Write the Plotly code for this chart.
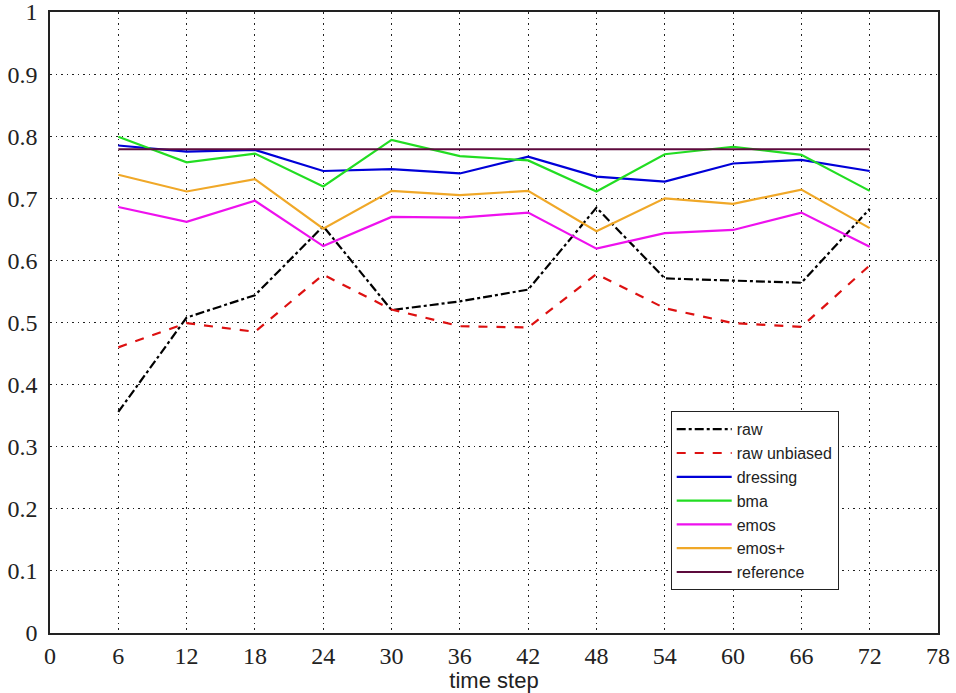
import plotly.graph_objects as go

time_steps = [6, 12, 18, 24, 30, 36, 42, 48, 54, 60, 66, 72]
raw = [0.356, 0.508, 0.544, 0.655, 0.520, 0.534, 0.553, 0.685, 0.571, 0.568, 0.564, 0.683]
raw_unbiased = [0.460, 0.499, 0.485, 0.577, 0.521, 0.494, 0.492, 0.578, 0.523, 0.499, 0.493, 0.592]
dressing = [0.785, 0.775, 0.778, 0.744, 0.747, 0.740, 0.767, 0.735, 0.727, 0.756, 0.762, 0.744]
bma = [0.799, 0.758, 0.772, 0.719, 0.794, 0.768, 0.761, 0.711, 0.771, 0.783, 0.770, 0.712]
emos = [0.686, 0.662, 0.696, 0.623, 0.670, 0.669, 0.677, 0.619, 0.644, 0.649, 0.677, 0.622]
emos_plus = [0.738, 0.711, 0.731, 0.651, 0.712, 0.705, 0.712, 0.647, 0.700, 0.691, 0.714, 0.652]
reference = [0.779] * 12

x_ticks = list(range(0, 79, 6))
y_ticks = [0, 0.1, 0.2, 0.3, 0.4, 0.5, 0.6, 0.7, 0.8, 0.9, 1]
y_tick_labels = ["0", "0.1", "0.2", "0.3", "0.4", "0.5", "0.6", "0.7", "0.8", "0.9", "1"]

series = [
    ("raw", raw, "#000000", "dashdot"),
    ("raw unbiased", raw_unbiased, "#dd1111", "dash"),
    ("dressing", dressing, "#0000d8", "solid"),
    ("bma", bma, "#22dd22", "solid"),
    ("emos", emos, "#ee11ee", "solid"),
    ("emos+", emos_plus, "#f0a828", "solid"),
    ("reference", reference, "#5c0a3c", "solid"),
]

fig = go.Figure()
for name, vals, color, dash in series:
    fig.add_trace(go.Scatter(x=time_steps, y=vals, mode="lines", name=name,
                             line=dict(color=color, width=2.2, dash=dash)))

axis_common = dict(
    showline=True, linecolor="#222222", linewidth=1.5, mirror=True,
    showgrid=True, gridcolor="#222222", gridwidth=1, griddash="1.5px,4px",
    zeroline=False, ticks="", automargin=False, ticklabeloverflow="allow",
    tickfont=dict(family="Liberation Serif", size=24, color="#222222"),
)

fig.update_layout(
    width=956, height=693,
    margin=dict(l=50, r=18, t=12, b=60, autoexpand=False),
    paper_bgcolor="white", plot_bgcolor="white",
    showlegend=True,
    legend=dict(x=0.699, y=0.357, xanchor="left", yanchor="top",
                bordercolor="#222222", borderwidth=1, bgcolor="white",
                itemwidth=55,
                font=dict(family="Liberation Sans", size=16, color="#222222"),
                tracegroupgap=0),
    xaxis=dict(range=[0, 78], tickvals=x_ticks, ticktext=[str(v) for v in x_ticks],
               title=dict(text="time step",
                          font=dict(family="Liberation Sans", size=22, color="#222222"),
                          standoff=2),
               **axis_common),
    yaxis=dict(range=[0, 1], tickvals=y_ticks, ticktext=y_tick_labels, ticklabelstandoff=6,
               **axis_common),
)

fig.write_html("out.html")
